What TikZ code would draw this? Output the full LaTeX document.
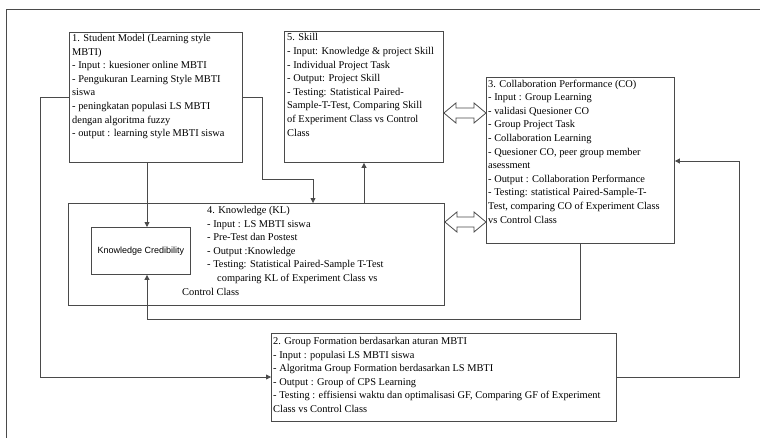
\documentclass[tikz,border=0pt]{standalone}
\usepackage{fontspec}
\setmainfont{Liberation Serif}
\newfontfamily\arialfont{Liberation Sans}
\usetikzlibrary{arrows.meta,calc}
\definecolor{linec}{HTML}{4A4A4A}
\begin{document}
\begin{tikzpicture}[x=1pt,y=-1pt,
  box/.style={draw=linec,line width=0.9pt,inner sep=0pt,anchor=north west},
  txt/.style={inner sep=0pt,anchor=north west,align=left,font=\fontsize{10.4}{13.6}\selectfont},
  arr/.style={draw=linec,line width=0.8pt,-{Triangle[length=5pt,width=5pt]}},
  hollow/.style={draw=linec,line width=0.8pt,fill=white,line join=miter}]
\useasboundingbox (0,0) rectangle (760,437);
\draw[linec,line width=0.9pt] (6,450) -- (6,9) -- (780,9);
% boxes
\node[box,minimum width=173pt,minimum height=130pt] (b1) at (69,32) {};
\node[box,minimum width=159pt,minimum height=131pt] (b5) at (284,31) {};
\node[box,minimum width=188pt,minimum height=166pt] (b3) at (486,77) {};
\node[box,minimum width=376pt,minimum height=102pt] (b4) at (68,203) {};
\node[box,minimum width=99pt,minimum height=47pt] (kc) at (91,227) {};
\node[font=\arialfont\fontsize{9}{11}\selectfont,inner sep=0pt] (kct) at (kc.center) {Knowledge Credibility};
\node[box,minimum width=345pt,minimum height=88pt] (b2) at (271,333) {};
% texts
\node[txt] (t1) at (72,34) {1. Student Model (Learning style\\MBTI)\\- Input : kuesioner online MBTI\\- Pengukuran Learning Style MBTI\\siswa\\- peningkatan populasi LS MBTI\\dengan algoritma fuzzy\\- output : learning style MBTI siswa};
\node[txt] (t5) at (287,33.5) {5. Skill\\- Input: Knowledge \& project Skill\\- Individual Project Task\\- Output: Project Skill\\- Testing: Statistical Paired-\\Sample-T-Test, Comparing Skill\\of Experiment Class vs Control\\Class};
\node[txt] (t3) at (488,79.5) {3. Collaboration Performance (CO)\\- Input : Group Learning\\- validasi Quesioner CO\\- Group Project Task\\- Collaboration Learning\\- Quesioner CO, peer group member\\asessment\\- Output : Collaboration Performance\\- Testing: statistical Paired-Sample-T-\\Test, comparing CO of Experiment Class\\vs Control Class};
\node[txt] (t4) at (182,206) {\hspace*{25pt}4. Knowledge (KL)\\\hspace*{25pt}- Input : LS MBTI siswa\\\hspace*{25pt}- Pre-Test dan Postest\\\hspace*{25pt}- Output :Knowledge\\\hspace*{25pt}- Testing: Statistical Paired-Sample T-Test\\\hspace*{35pt}comparing KL of Experiment Class vs\\Control Class};
\node[txt] (t2) at (273,337) {2. Group Formation berdasarkan aturan MBTI\\- Input : populasi LS MBTI siswa\\- Algoritma Group Formation berdasarkan LS MBTI\\- Output : Group of CPS Learning\\- Testing : effisiensi waktu dan optimalisasi GF, Comparing GF of Experiment\\Class vs Control Class};
% connectors
\draw[arr] (b1.west |- 0,97) -| (40,377) -- (b2.west |- 0,377);
\draw[arr] (b1.east |- 0,97) -- (262,97) -- (262,179) -- (313,179) -- (b4.north -| 313,0);
\draw[arr] (b1.south -| 147,0) -- (kc.north -| 147,0);
\draw[arr] (b4.north -| 364,0) -- (b5.south -| 364,0);
\draw[arr] (b3.south -| 580,0) |- (147,319) -- (kc.south -| 147,0);
\draw[arr] (b2.east |- 0,377) -| (739,161) -- (b3.east |- 0,161);
% hollow double arrows
\path (b5.east |- 0,113) coordinate (d1a) (b3.west |- 0,113) coordinate (d1b);
\draw[hollow] (d1a) -- ++(12,-10) -- ++(0,5) -- ($(d1b)+(-12,-5)$) -- ++(0,-5) -- (d1b) -- ++(-12,10) -- ++(0,-5) -- ($(d1a)+(12,5)$) -- ++(0,5) -- cycle;
\path (b4.east |- 0,222) coordinate (d2a) (b3.west |- 0,222) coordinate (d2b);
\draw[hollow] (d2a) -- ++(12,-10) -- ++(0,5) -- ($(d2b)+(-12,-5)$) -- ++(0,-5) -- (d2b) -- ++(-12,10) -- ++(0,-5) -- ($(d2a)+(12,5)$) -- ++(0,5) -- cycle;
\end{tikzpicture}
\end{document}
